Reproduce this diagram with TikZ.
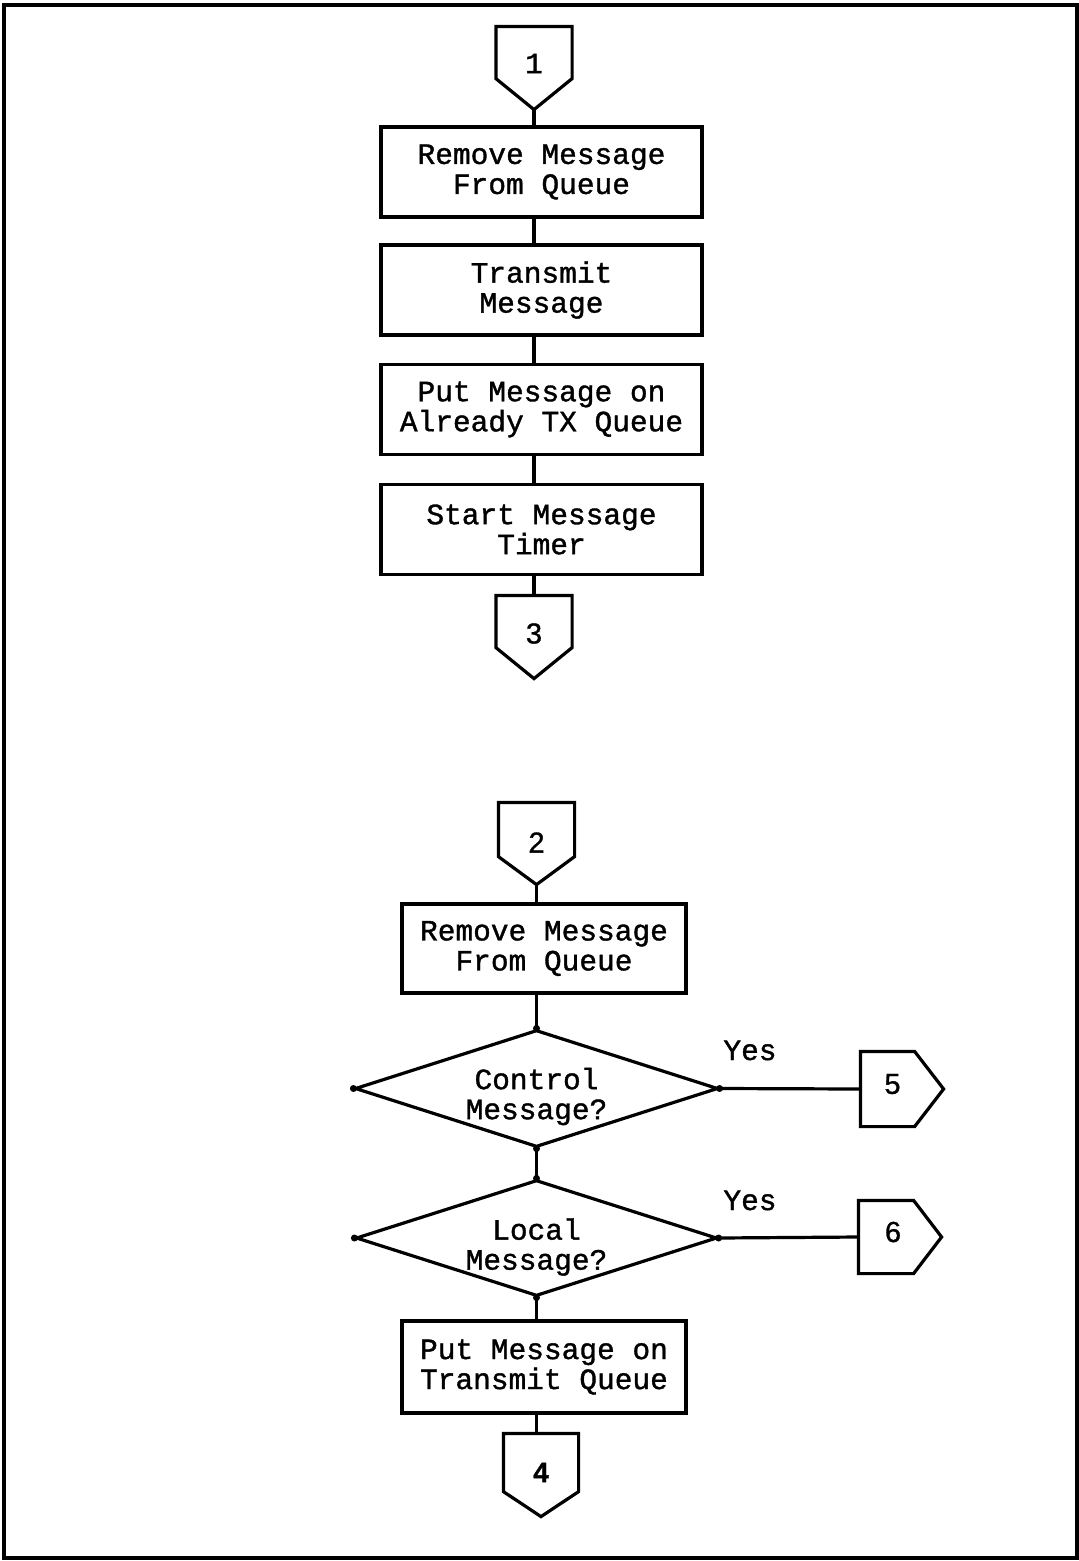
\documentclass[tikz,border=0pt]{standalone}
\usepackage{fontspec}
\newfontfamily\twfont[FakeBold=1.2]{Liberation Mono}
\newfontfamily\digfont[FakeBold=1.0]{Liberation Sans}
\usetikzlibrary{shapes.geometric,calc}

% off-page connector outlines built on a named square node
\newcommand\pentdown[2]{\draw (#1.north west) -- (#1.north east) -- (#1.south east) -- (#2) -- (#1.south west) -- cycle;}
\newcommand\pentright[2]{\draw (#1.north west) -- (#1.north east) -- (#2) -- (#1.south east) -- (#1.south west) -- cycle;}

\begin{document}
\begin{tikzpicture}[x=1pt,y=-1pt,
  line width=3.2pt, line join=miter,
  txt/.style={font=\fontsize{29.5}{30}\selectfont\twfont, align=center, inner sep=0pt},
  procbox/.style={draw, rectangle, txt, minimum width=#1, minimum height=90pt},
  decision/.style={draw, diamond, inner sep=0pt},
  offsq/.style={rectangle, inner sep=0pt, minimum width=73pt},
  digit/.style={font=\fontsize{29}{29}\selectfont\digfont, inner sep=0pt},
  junction/.style={circle, fill, inner sep=0pt, minimum size=7pt},
]
\useasboundingbox (0,0) rectangle (1079,1561);
\draw (4,5) rectangle (1077,1558);

% ---- upper flow: transmit path ----
\node[offsq, minimum height=49pt] (c1) at (534,52.5) {};
\coordinate (c1tip) at ($(c1.south)+(0,31)$);
\pentdown{c1}{c1tip}
\node[txt] (c1lbl) at ($(c1.center)+(0,11)$) {1};

\node[procbox=321pt] (b1) at (541.5,172) {Remove Message\\From Queue};
\node[procbox=321pt] (b2) at (541.5,290) {Transmit\\Message};
\node[procbox=321pt] (b3) at (541.5,409.5) {Put Message on\\Already TX Queue};
\node[procbox=321pt] (b4) at (541.5,529.5) {Start Message\\Timer};

\node[offsq, minimum height=49pt] (c3) at (534,621.5) {};
\coordinate (c3tip) at ($(c3.south)+(0,31)$);
\pentdown{c3}{c3tip}
\node[digit] (c3lbl) at ($(c3.center)+(0,12)$) {3};

\draw (c1tip) -- (c1tip |- b1.north);
\draw (b1.south -| c1tip) -- (b2.north -| c1tip);
\draw (b2.south -| c1tip) -- (b3.north -| c1tip);
\draw (b3.south -| c1tip) -- (b4.north -| c1tip);
\draw (b4.south -| c1tip) -- (c3.north -| c1tip);

% ---- lower flow: received message handling ----
\node[offsq, minimum height=51pt] (c2) at (536.5,829.5) {};
\coordinate (c2tip) at ($(c2.south)+(0,28)$);
\pentdown{c2}{c2tip}
\node[digit] (c2lbl) at ($(c2.center)+(0,13)$) {2};

\node[procbox=284pt, minimum height=89pt] (b5) at (544,948.5) {Remove Message\\From Queue};
\node[decision, minimum width=363pt, minimum height=117pt] (d1) at (536.5,1088.5) {};
\node[txt] (d1txt) at ($(d1.center)+(0,8)$) {Control\\Message?};
\node[decision, minimum width=361pt, minimum height=116pt] (d2) at (536.5,1238) {};
\node[txt] (d2txt) at ($(d2.center)+(0,9)$) {Local\\Message?};
\node[procbox=284pt, minimum height=92pt] (b6) at (544,1367) {Put Message on\\Transmit Queue};

\node[offsq, minimum width=72pt, minimum height=55pt] (c4) at (541,1462.5) {};
\coordinate (c4tip) at ($(c4.south)+(0,25)$);
\pentdown{c4}{c4tip}
\node[digit, font=\fontsize{28}{28}\selectfont\digfont\bfseries] (c4lbl) at ($(c4.center)+(0,10)$) {4};

\node[offsq, minimum width=51pt, minimum height=72pt] (c5) at (887.5,1089) {};
\coordinate (c5tip) at ($(c5.east)+(29,0)$);
\pentright{c5}{c5tip}
\node[digit] (c5lbl) at ($(c5.center)+(5,-5)$) {5};

\node[offsq, minimum width=52pt, minimum height=70pt] (c6) at (886,1237) {};
\coordinate (c6tip) at ($(c6.east)+(28,0)$);
\pentright{c6}{c6tip}
\node[digit] (c6lbl) at ($(c6.center)+(7,-5)$) {6};

\draw (c2tip) -- (c2tip |- b5.north);
\draw (b5.south -| c2tip) -- (d1.north);
\draw (d1.south) -- (d2.north);
\draw (d2.south) -- (b6.north -| d2.south);
\draw (b6.south -| c2tip) -- (c4.north -| c2tip);
\draw (d1.east) -- (c5.west);
\draw (d2.east) -- (c6.west);

\node[txt, anchor=base] (y1) at (750,1060) {Yes};
\node[txt, anchor=base] (y2) at (750,1210) {Yes};

\foreach \d in {d1,d2}{
  \node[junction] (\d w) at (\d.west) {};
  \node[junction] (\d n) at (\d.north) {};
  \node[junction] (\d s) at (\d.south) {};
  \node[junction] (\d e) at (\d.east) {};
}
\end{tikzpicture}
\end{document}
